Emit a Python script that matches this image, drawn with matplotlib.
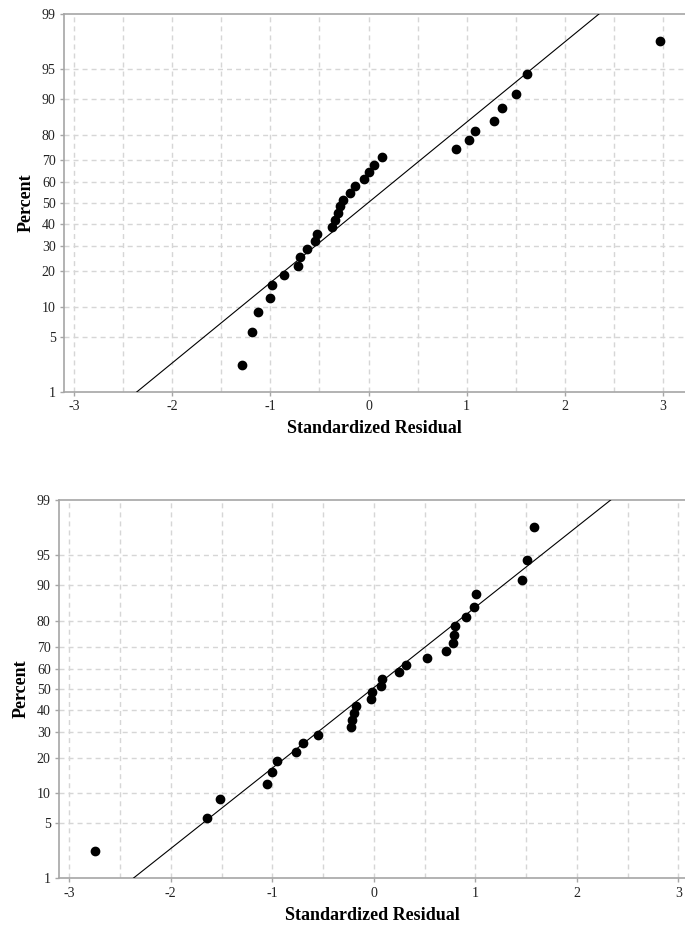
import numpy as np
import matplotlib.pyplot as plt
from statistics import NormalDist

# ============================================================
# Data
# ============================================================

percent = [2.3, 5.6, 8.9, 12.2, 15.5, 18.8, 22.0, 25.3, 28.6, 31.9,
           35.2, 38.5, 41.8, 45.1, 48.4, 51.6, 54.9, 58.2, 61.5, 64.8,
           68.1, 71.4, 74.7, 78.0, 81.3, 84.5, 87.8, 91.1, 94.4, 97.7]

resid_top = [-1.293, -1.188, -1.130, -1.004, -0.981, -0.862, -0.724, -0.699,
             -0.630, -0.543, -0.523, -0.374, -0.342, -0.311, -0.291, -0.257,
             -0.184, -0.138, -0.049, 0.007, 0.051, 0.138, 0.889, 1.022,
             1.089, 1.283, 1.358, 1.504, 1.616, 2.969]

resid_bot = [-2.747, -1.643, -1.518, -1.052, -1.000, -0.954, -0.764, -0.700,
             -0.547, -0.225, -0.218, -0.195, -0.175, -0.025, -0.021, 0.068,
             0.078, 0.245, 0.320, 0.521, 0.709, 0.783, 0.793, 0.797,
             0.908, 0.987, 1.010, 1.463, 1.509, 1.575]

# fitted normal line: mean, sd
fit_top = (-0.007, 1.013)
fit_bot = (-0.018, 1.011)

pct_ticks = [1, 5, 10, 20, 30, 40, 50, 60, 70, 80, 90, 95, 99]
x_ticks = [-3, -2, -1, 0, 1, 2, 3]

nd = NormalDist()


def z(p):
    return nd.inv_cdf(p / 100.0)


# ============================================================
# Figure
# ============================================================

W, H = 685, 931
fig = plt.figure(figsize=(W/100, H/100), dpi=100)

grid_col = "#d6d6d6"
spine_col = "#a6a6a6"


def probplot(ax, resid, fit, xlim):

    zs = [z(p) for p in percent]
    ax.plot(resid, zs, "o", color="black", ms=6, zorder=5, clip_on=False)

    mu, sd = fit
    zl = np.array([z(1), z(99)])
    ax.plot(mu + sd*zl, zl, color="black", lw=0.8, zorder=4)

    ax.set_xlim(*xlim)
    ax.set_ylim(z(1), z(99))

    ax.set_yticks([z(p) for p in pct_ticks])
    ax.set_yticklabels([str(p) for p in pct_ticks])
    ax.set_xticks(x_ticks)
    ax.set_xticklabels([str(v) for v in x_ticks])

    # grid every 0.5 on x, at every percent tick on y
    for xv in np.arange(-3, 3.01, 0.5):
        ax.axvline(xv, color=grid_col, lw=1, ls=(0, (3.6, 2.9)), zorder=1)
    for p in pct_ticks[1:-1]:
        ax.axhline(z(p), color=grid_col, lw=1, ls=(0, (3.6, 2.9)), zorder=1)

    ax.spines["right"].set_visible(False)
    for s in ["left", "bottom", "top"]:
        ax.spines[s].set_color(spine_col)
        ax.spines[s].set_linewidth(1.2)

    ax.tick_params(axis="both", colors=spine_col, length=3, width=1,
                   labelcolor="#222222", labelsize=10, pad=3)
    for lab in ax.get_xticklabels() + ax.get_yticklabels():
        lab.set_family("Liberation Serif")

    ax.set_xlabel("Standardized Residual", family="Liberation Serif",
                  fontweight="bold", fontsize=13, labelpad=5)
    ax.set_ylabel("Percent", family="Liberation Serif",
                  fontweight="bold", fontsize=13, labelpad=5)


ax_top = fig.add_axes([64/W, 1 - 392/H, 1 - 64/W, 378/H])
probplot(ax_top, resid_top, fit_top, (-3.105, 3.227))

ax_bot = fig.add_axes([59/W, 1 - 878.3/H, 1 - 59/W, 378.3/H])
probplot(ax_bot, resid_bot, fit_bot, (-3.101, 3.066))

fig.savefig("out.png", dpi=100)
